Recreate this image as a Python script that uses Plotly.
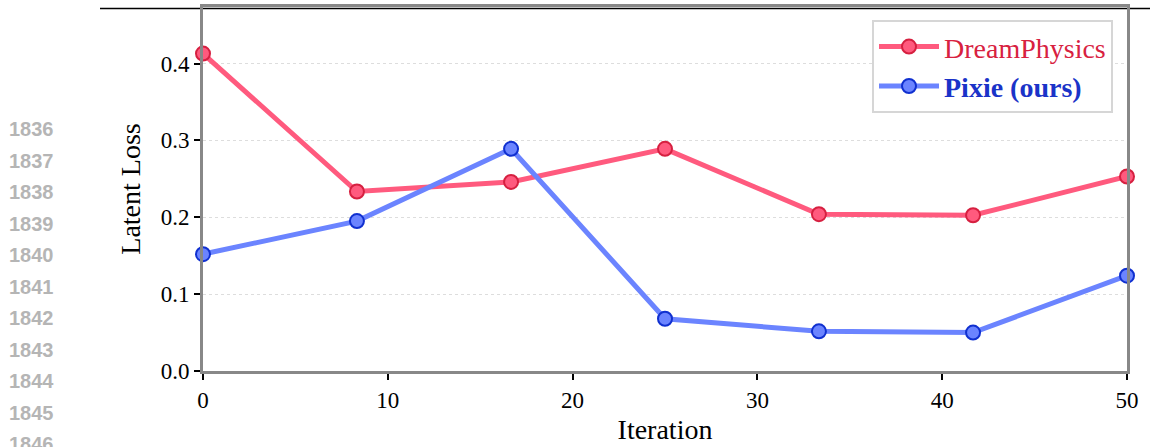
import plotly.graph_objects as go

iterations = [0, 8.33, 16.67, 25, 33.33, 41.67, 50]
dreamphysics = [0.413, 0.2335, 0.246, 0.289, 0.204, 0.2026, 0.253]
pixie = [0.152, 0.195, 0.289, 0.068, 0.0516, 0.050, 0.124]
x_ticks = [0, 10, 20, 30, 40, 50]
y_ticks = [0.0, 0.1, 0.2, 0.3, 0.4]
line_numbers = ["1836", "1837", "1838", "1839", "1840", "1841", "1842", "1843", "1844", "1845", "1846"]

W, H = 1150, 447
L, R, T, B = 203, 23, 4, 76
pw, ph = W - L - R, H - T - B

def px_x(px):
    return (px - L) / pw

def px_y(py):
    return (H - B - py) / ph

SERIF = "Liberation Serif"

fig = go.Figure()
fig.add_trace(go.Scatter(
    x=iterations, y=dreamphysics, mode="lines+markers",
    name="<span style='color:#d8213f'>DreamPhysics</span>",
    line=dict(color="#ff5a7e", width=5),
    marker=dict(size=14, color="#ff5a7e", line=dict(color="#d62040", width=2)),
    cliponaxis=False,
))
fig.add_trace(go.Scatter(
    x=iterations, y=pixie, mode="lines+markers",
    name="<span style='color:#1a33c8'><b>Pixie (ours)</b></span>",
    line=dict(color="#6b84ff", width=5),
    marker=dict(size=14, color="#6b84ff", line=dict(color="#1030d0", width=2)),
    cliponaxis=False,
))

# line numbers of the page margin
for i, t in enumerate(line_numbers):
    py = 127 + i * 31.8
    fig.add_annotation(text=f"<b>{t}</b>", xref="paper", yref="paper",
                       x=px_x(7), y=px_y(py), xanchor="left", yanchor="middle",
                       showarrow=False,
                       font=dict(family="Liberation Sans", size=20, color="#b5b5b5"))

# page rule at top
fig.add_shape(type="line", xref="paper", yref="paper",
              x0=px_x(100), x1=px_x(1150), y0=px_y(5.5), y1=px_y(5.5),
              line=dict(color="black", width=1.5), layer="below")

fig.update_layout(
    width=W, height=H,
    margin=dict(l=L, r=R, t=T, b=B, pad=0),
    paper_bgcolor="white", plot_bgcolor="white",
    font=dict(family=SERIF, size=20, color="black"),
    showlegend=True,
    legend=dict(x=px_x(1113), y=px_y(17), xanchor="right", yanchor="top",
                bgcolor="white", bordercolor="#d6d6d6", borderwidth=2,
                font=dict(family=SERIF, size=28), itemwidth=60,
                tracegroupgap=4),
    xaxis=dict(range=[0, 50], tickvals=x_ticks, ticktext=[str(v) for v in x_ticks],
               showgrid=False, zeroline=False,
               showline=True, mirror=True, linecolor="#888888", linewidth=3,
               ticks="outside", ticklen=6, tickwidth=1.5, tickcolor="black",
               tickfont=dict(family=SERIF, size=23),
               title=dict(text="Iteration", font=dict(family=SERIF, size=28), standoff=8)),
    yaxis=dict(range=[0, (H - B - T) / 775], tickvals=y_ticks,
               ticktext=[f"{v:.1f}" for v in y_ticks],
               showgrid=True, gridcolor="#dddddd", griddash="dot", gridwidth=1,
               zeroline=False,
               showline=True, mirror=True, linecolor="#888888", linewidth=3,
               ticks="outside", ticklen=6, tickwidth=1.5, tickcolor="black",
               tickfont=dict(family=SERIF, size=23),
               title=dict(text="Latent Loss", font=dict(family=SERIF, size=28), standoff=12)),
)

fig.write_html("out.html", config={"displayModeBar": False},
               post_script="document.body.style.margin='0px';document.body.style.overflow='hidden';")
